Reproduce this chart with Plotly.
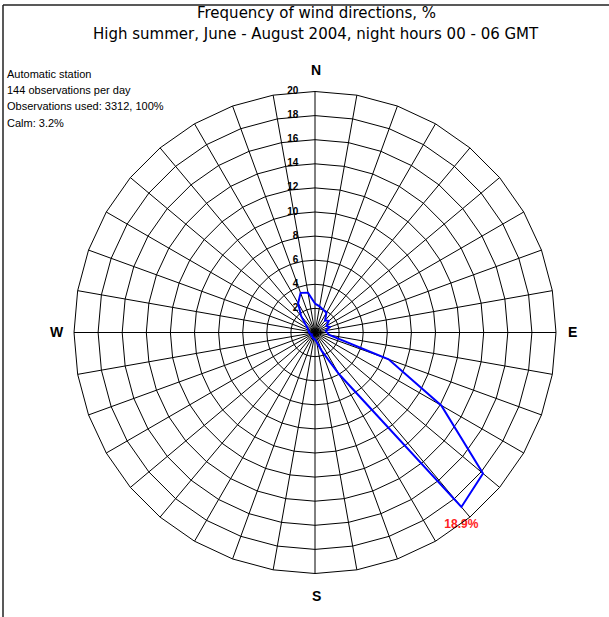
import plotly.graph_objects as go

W, H = 609, 617

# --- data -------------------------------------------------------------
directions = ["0", "10", "20", "30", "40", "50", "60", "70", "80", "90",
              "100", "110", "120", "130", "140", "150", "160", "170",
              "180", "190", "200", "210", "220", "230", "240", "250",
              "260", "270", "280", "290", "300", "310", "320", "330",
              "340", "350"]
frequency = [2.4, 2.2, 2.0, 1.9, 1.3, 1.5, 1.1, 1.3, 0.9, 1.0,
             1.2, 6.5, 12.1, 18.2, 18.9, 4.0, 1.6, 0.8,
             0.6, 0.5, 0.5, 0.4, 0.4, 0.4, 0.3, 0.4,
             0.4, 0.5, 0.5, 0.6, 0.7, 1.0, 1.8, 2.8,
             3.5, 3.35]
radial_ticks = [0, 2, 4, 6, 8, 10, 12, 14, 16, 18, 20]
compass = ["N", "E", "S", "W"]
info_lines = ["Automatic station", "144 observations per day",
              "Observations used: 3312, 100%", "Calm: 3.2%"]
title_lines = ["Frequency of wind directions, %",
               "High summer, June - August 2004, night hours 00 - 06 GMT"]

# --- geometry (pixels) --------------------------------------------------
cx, cy, R = 315, 332.5, 241
NBSP = "\u00a0"


def px(x):
    return x / W


def py(y):
    return 1 - y / H


peak_i = max(range(len(frequency)), key=lambda i: frequency[i])

fig = go.Figure()
fig.add_trace(go.Scatterpolar(
    r=frequency + [frequency[0]],
    theta=directions + [directions[0]],
    mode="lines",
    line=dict(color="#0000ff", width=2),
    hoverinfo="skip",
    showlegend=False,
))
# radial scale labels along the north spoke
fig.add_trace(go.Scatterpolar(
    r=radial_ticks,
    theta=[directions[0]] * len(radial_ticks),
    mode="text",
    text=[f"{v}{NBSP * 6}" for v in radial_ticks],
    textposition="middle left",
    textfont=dict(family="Liberation Sans, Arial", size=10, color="black", weight="bold"),
    showlegend=False,
    hoverinfo="skip",
))
# peak label
fig.add_trace(go.Scatterpolar(
    r=[frequency[peak_i]],
    theta=[directions[peak_i]],
    mode="markers+text",
    marker=dict(size=18, color="rgba(0,0,0,0)"),
    text=[f"{frequency[peak_i]:.1f}%"],
    textposition="bottom center",
    textfont=dict(family="Liberation Sans, Arial", size=12, color="#ff2020", weight="bold"),
    showlegend=False,
    hoverinfo="skip",
))

fig.update_layout(
    width=W, height=H,
    margin=dict(l=0, r=0, t=0, b=0),
    paper_bgcolor="white",
    showlegend=False,
    polar=dict(
        domain=dict(x=[px(cx - R), px(cx + R)], y=[py(cy + R), py(cy - R)]),
        bgcolor="white",
        gridshape="linear",
        angularaxis=dict(
            type="category",
            categoryorder="array",
            categoryarray=directions,
            rotation=90,
            direction="clockwise",
            tickmode="array",
            tickvals=directions,
            ticktext=["" for _ in directions],
            showticklabels=False,
            ticks="",
            showgrid=True,
            gridcolor="black",
            gridwidth=1,
            showline=True,
            linecolor="black",
            linewidth=1,
        ),
        radialaxis=dict(
            range=[0, 20],
            angle=90,
            tickmode="array",
            tickvals=radial_ticks,
            showticklabels=False,
            ticks="",
            showline=False,
            showgrid=True,
            gridcolor="black",
            gridwidth=1,
        ),
    ),
)

annotations = []
# title
for i, t in enumerate(title_lines):
    annotations.append(dict(
        text=t, x=px(316), y=py(13 + 21 * i), xref="paper", yref="paper",
        xanchor="center", yanchor="middle", showarrow=False,
        font=dict(family="DejaVu Sans", size=15, color="black"),
    ))
# info block
for i, t in enumerate(info_lines):
    annotations.append(dict(
        text=t, x=px(5), y=py(74 + 16.2 * i), xref="paper", yref="paper",
        xanchor="left", yanchor="middle", showarrow=False,
        font=dict(family="Liberation Sans", size=11, color="black"),
    ))
# compass letters
compass_pos = {"N": (316, 70), "E": (572, 332), "S": (316, 596), "W": (57, 332)}
for c in compass:
    x, y = compass_pos[c]
    annotations.append(dict(
        text=c, x=px(x), y=py(y), xref="paper", yref="paper",
        xanchor="center", yanchor="middle", showarrow=False,
        font=dict(family="Liberation Sans, Arial", size=14, color="black", weight="bold"),
    ))
fig.update_layout(annotations=annotations)

# frame (top and left edges visible)
fig.add_shape(type="line", xref="paper", yref="paper",
              x0=px(3), x1=1.0, y0=py(5), y1=py(5),
              line=dict(color="#222222", width=1.5))
fig.add_shape(type="line", xref="paper", yref="paper",
              x0=px(3), x1=px(3), y0=py(5), y1=0.0,
              line=dict(color="#222222", width=1.5))

fig.write_html("out.html",
               config={"displayModeBar": False},
               post_script="document.body.style.margin='0px';"
                           "document.body.style.overflow='hidden';")
